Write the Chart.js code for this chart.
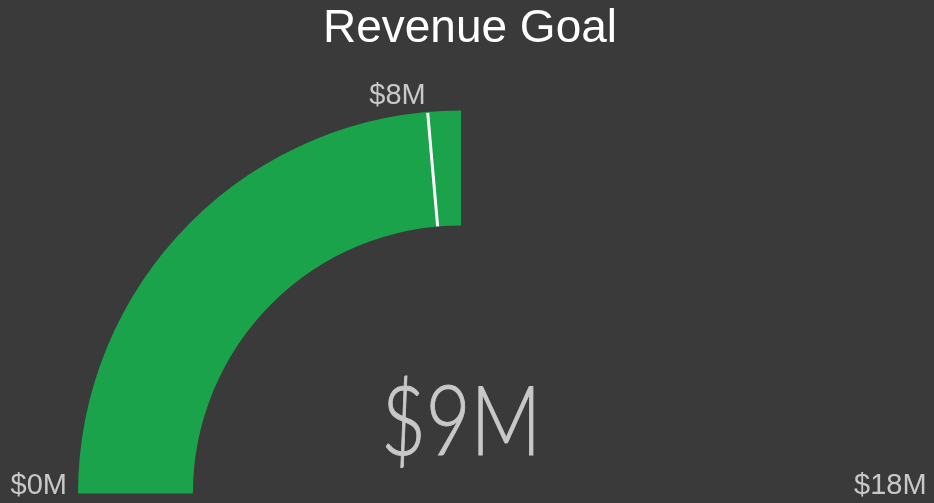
<!DOCTYPE html>
<html>
<head>
<meta charset="utf-8">
<script src="https://cdn.jsdelivr.net/npm/chart.js@4"></script>
<style>
  html, body { margin: 0; padding: 0; background: #3a3a3a; }
  #wrap { width: 934px; height: 503px; }
</style>
</head>
<body>
<div id="wrap"><canvas id="gauge" width="934" height="503"></canvas></div>
<script>
// gauge data (millions)
const categories = ['Revenue', 'Remaining'];
const rangeMin = [0];
const rangeMax = [18];
const actual = [9];
const target = [8.5];
const tickLabels = ['$0M', '$8M', '$18M'];
const valueLabel = ['$9M'];
const titleText = 'Revenue Goal';

const ctx = document.getElementById('gauge').getContext('2d');

const gaugeText = {
    id: 'gaugeText',
    afterDatasetsDraw(chart) {
        const arc = chart.getDatasetMeta(0).data[0];
        const cx = arc.x, cy = arc.y;
        const rOut = arc.outerRadius, rIn = arc.innerRadius;
        const c = chart.ctx;
        c.save();

        // title
        c.fillStyle = '#ffffff';
        c.font = '46px "Liberation Sans", Arial, sans-serif';
        c.textAlign = 'center';
        c.textBaseline = 'alphabetic';
        c.fillText(titleText, 470, 42);

        // target marker
        const frac = (target[0] - rangeMin[0]) / (rangeMax[0] - rangeMin[0]);
        const ang = Math.PI + frac * Math.PI;
        const x1 = cx + Math.cos(ang) * rIn, y1 = cy + Math.sin(ang) * rIn;
        const x2 = cx + Math.cos(ang) * (rOut - 1), y2 = cy + Math.sin(ang) * (rOut - 1);
        c.strokeStyle = '#ffffff';
        c.lineWidth = 3;
        c.beginPath();
        c.moveTo(x1, y1);
        c.lineTo(x2, y2);
        c.stroke();

        c.fillStyle = '#c8c8c8';
        c.font = '29px "Liberation Sans", Arial, sans-serif';
        c.textAlign = 'right';
        c.fillText(tickLabels[1], x2 - 2, y2 - 9);

        // min / max labels
        c.fillText(tickLabels[0], cx - rOut - 11, cy);
        c.textAlign = 'left';
        c.fillText(tickLabels[2], cx + rOut + 10, cy);

        // big value
        c.font = '300 97px Lato, "Open Sans", sans-serif';
        c.textAlign = 'center';
        c.lineWidth = 1;
        c.strokeStyle = '#c8c8c8';
        const w = c.measureText(valueLabel[0]).width;
        c.translate(cx, cy - 39);
        c.scale(Math.min(1, 160 / w), 1);
        c.fillText(valueLabel[0], 0, 0);
        c.strokeText(valueLabel[0], 0, 0);
        c.restore();
    }
};

new Chart(ctx, {
    type: 'doughnut',
    data: {
        labels: categories,
        datasets: [{
            data: [actual[0] - rangeMin[0], rangeMax[0] - actual[0]],
            backgroundColor: ['#1ba34c', 'rgba(0,0,0,0)'],
            borderWidth: 0
        }]
    },
    options: {
        responsive: false,
        animation: false,
        rotation: -90,
        circumference: 180,
        cutout: '70%',
        layout: {
            padding: { left: 78, right: 90, top: 110, bottom: 9 }
        },
        plugins: {
            legend: { display: false },
            tooltip: { enabled: false },
            title: { display: false }
        }
    },
    plugins: [gaugeText]
});
</script>
</body>
</html>
